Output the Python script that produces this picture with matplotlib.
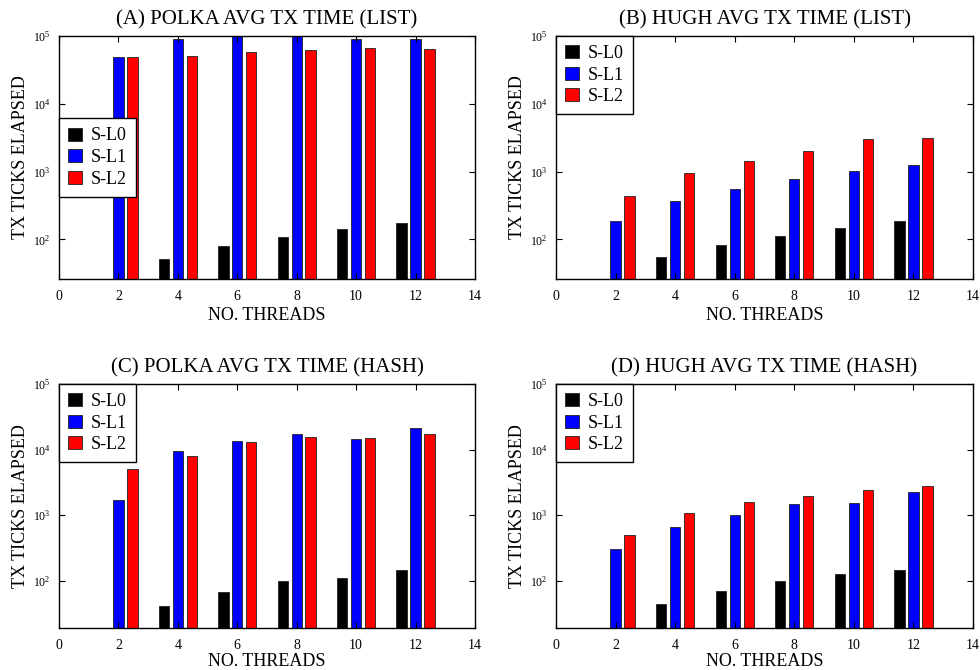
import numpy as np
import matplotlib
matplotlib.use('Agg')
import matplotlib.pyplot as plt

plt.rcParams['font.family'] = ['Liberation Serif', 'DejaVu Serif']
plt.rcParams['mathtext.fontset'] = 'custom'
plt.rcParams['mathtext.rm'] = 'Liberation Serif'

threads = [2, 4, 6, 8, 10, 12]
series = ['S-L0', 'S-L1', 'S-L2']
colors = ['#000000', '#0000ff', '#ff0000']

titles = ['(A) POLKA AVG TX TIME (LIST)', '(B) HUGH AVG TX TIME (LIST)',
          '(C) POLKA AVG TX TIME (HASH)', '(D) HUGH AVG TX TIME (HASH)']

# nan = no bar for that thread count
polka_list_l0 = [np.nan, 52, 80, 108, 143, 176]
polka_list_l1 = [49400, 91000, 110000, 110000, 91000, 91000]
polka_list_l2 = [48400, 50700, 58000, 62800, 67300, 64300]

hugh_list_l0 = [np.nan, 55, 83, 113, 147, 187]
hugh_list_l1 = [189, 374, 550, 785, 1016, 1265]
hugh_list_l2 = [434, 964, 1415, 1990, 3030, 3100]

polka_hash_l0 = [np.nan, 41.5, 67, 99, 111, 146]
polka_hash_l1 = [1710, 9430, 13400, 17300, 14400, 21700]
polka_hash_l2 = [4990, 8060, 13200, 15400, 15100, 17100]

hugh_hash_l0 = [np.nan, 44.6, 69, 98, 125, 144]
hugh_hash_l1 = [304, 667, 1000, 1470, 1525, 2270]
hugh_hash_l2 = [504, 1070, 1560, 1930, 2460, 2800]

panels = [
    (polka_list_l0, polka_list_l1, polka_list_l2),
    (hugh_list_l0, hugh_list_l1, hugh_list_l2),
    (polka_hash_l0, polka_hash_l1, polka_hash_l2),
    (hugh_hash_l0, hugh_hash_l1, hugh_hash_l2),
]

# axes boxes in pixels: left, right, top, bottom
W, H = 980., 670.
boxes = [(59, 475, 36, 279), (556, 973, 36, 279),
         (59, 475, 384, 628), (556, 973, 384, 628)]
ybottoms = [26, 26, 19, 19]
legend_locs = [('center left', (0, 0.5)), ('upper left', (0, 1)),
               ('upper left', (0, 1)), ('upper left', (0, 1))]

fig = plt.figure(figsize=(9.8, 6.7), dpi=100)
x = np.array(threads)
offsets = [-0.47, 0.0, 0.47]
width = 0.35

for i, data in enumerate(panels):
    l, r, t, b = boxes[i]
    ax = fig.add_axes([l / W, 1 - b / H, (r - l) / W, (b - t) / H])
    for vals, off, c, name in zip(data, offsets, colors, series):
        ax.bar(x + off, vals, width, color=c, edgecolor='#202020',
               linewidth=0.6, label=name)
    ax.set_yscale('log')
    ax.set_ylim(ybottoms[i], 1e5)
    ax.set_xlim(0, 14)
    ax.set_xticks(range(0, 15, 2))
    ax.minorticks_off()
    ax.set_yticks([1e2, 1e3, 1e4, 1e5])
    ax.tick_params(direction='in', top=True, right=True, length=4, width=0.8)
    ax.tick_params(axis='x', labelsize=10, pad=8)
    ax.tick_params(axis='y', labelsize=8.5, pad=6)
    for s in ax.spines.values():
        s.set_linewidth(1.0)
    ax.set_title(titles[i], fontsize=15, pad=8)
    # bottom row sits a bit closer to the edge, as in the original
    ax.set_xlabel('NO. THREADS', fontsize=13, labelpad=3 if i < 2 else 1)
    ax.set_ylabel('TX TICKS ELAPSED', fontsize=13, labelpad=3)
    loc, anchor = legend_locs[i]
    leg = ax.legend(loc=loc, bbox_to_anchor=anchor, borderaxespad=0,
                    fontsize=13, fancybox=False, framealpha=1,
                    edgecolor='black', handlelength=0.75, handleheight=0.75,
                    handletextpad=0.5, labelspacing=0.25, borderpad=0.5)
    leg.get_frame().set_linewidth(1.0)

fig.savefig('out.png', dpi=100)
